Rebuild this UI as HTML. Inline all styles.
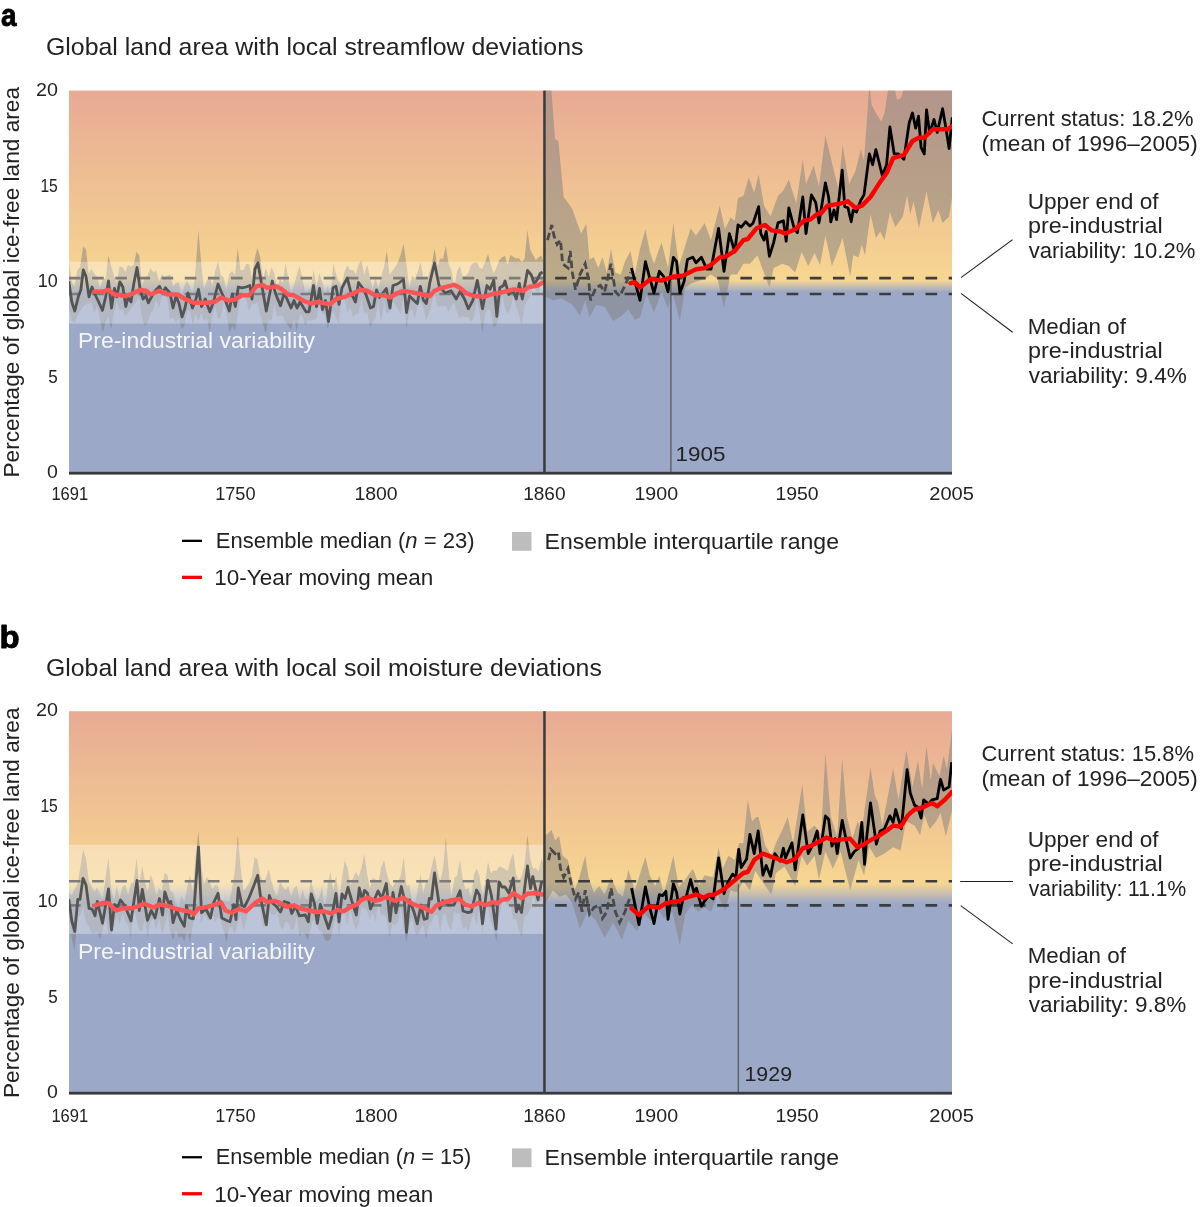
<!DOCTYPE html>
<html><head><meta charset="utf-8"><style>
html,body{margin:0;padding:0;background:#fff;}
svg{display:block;will-change:transform;}
text{font-family:"Liberation Sans", sans-serif;}
</style></head><body>
<svg width="1200" height="1207" viewBox="0 0 1200 1207">
<rect width="1200" height="1207" fill="#fff"/>
<clipPath id="clipA"><rect x="69" y="90.60" width="883" height="381.40"/></clipPath>
<linearGradient id="gA" gradientUnits="userSpaceOnUse" x1="0" y1="90.60" x2="0" y2="472.00"><stop offset="0" stop-color="#E7AA94"/><stop offset="0.4969" stop-color="#F7D691"/><stop offset="0.5281" stop-color="#9CA8C8"/><stop offset="1" stop-color="#9CA8C8"/></linearGradient>
<rect x="69" y="90.60" width="883" height="381.40" fill="url(#gA)"/>
<g clip-path="url(#clipA)">
<polygon points="69.0,262.4 71.8,282.5 74.6,286.6 77.4,270.1 80.2,266.9 83.1,246.5 85.9,249.2 88.7,273.5 91.5,269.0 94.3,273.9 97.1,276.5 99.9,287.7 102.7,279.8 105.6,278.6 108.4,255.5 111.2,266.3 114.0,275.9 116.8,282.3 119.6,266.6 122.4,267.0 125.2,272.0 128.1,264.8 130.9,266.8 133.7,264.7 136.5,251.8 139.3,255.8 142.1,285.6 144.9,277.3 147.7,275.5 150.6,268.0 153.4,272.5 156.2,270.8 159.0,281.5 161.8,274.5 164.6,276.7 167.4,275.4 170.2,274.2 173.0,286.5 175.9,283.4 178.7,282.0 181.5,298.5 184.3,286.1 187.1,280.8 189.9,286.4 192.7,297.2 195.5,269.6 198.4,230.0 201.2,263.5 204.0,288.9 206.8,281.3 209.6,275.9 212.4,286.3 215.2,271.0 218.0,261.5 220.9,275.0 223.7,277.4 226.5,290.8 229.3,273.7 232.1,271.1 234.9,275.5 237.7,248.0 240.5,270.0 243.4,270.2 246.2,263.9 249.0,264.1 251.8,277.3 254.6,258.8 257.4,248.0 260.2,256.7 263.0,279.1 265.8,267.8 268.7,277.3 271.5,267.5 274.3,273.5 277.1,288.6 279.9,277.7 282.7,283.3 285.5,263.0 288.3,278.1 291.2,295.2 294.0,285.3 296.8,275.1 299.6,266.0 302.4,278.7 305.2,293.2 308.0,291.0 310.8,288.2 313.7,269.6 316.5,287.9 319.3,273.2 322.1,281.3 324.9,294.0 327.7,286.0 330.5,296.2 333.3,263.8 336.1,274.4 339.0,281.9 341.8,285.0 344.6,271.5 347.4,265.3 350.2,269.9 353.0,269.9 355.8,274.3 358.6,264.4 361.5,260.6 364.3,274.8 367.1,264.5 369.9,277.0 372.7,289.7 375.5,277.3 378.3,288.8 381.1,277.6 384.0,267.2 386.8,251.0 389.6,274.7 392.4,270.9 395.2,267.1 398.0,261.9 400.8,254.5 403.6,243.5 406.5,265.1 409.3,287.8 412.1,275.6 414.9,278.3 417.7,272.3 420.5,261.7 423.3,277.4 426.1,280.5 428.9,274.4 431.8,264.0 434.6,248.6 437.4,266.4 440.2,258.5 443.0,259.0 445.8,245.8 448.6,264.1 451.4,270.2 454.3,287.4 457.1,271.0 459.9,266.0 462.7,276.6 465.5,275.7 468.3,273.0 471.1,264.9 473.9,263.0 476.8,262.3 479.6,268.0 482.4,268.7 485.2,262.0 488.0,254.0 490.8,264.6 493.6,274.0 496.4,267.8 499.3,260.3 502.1,257.3 504.9,256.0 507.7,265.0 510.5,254.8 513.3,257.0 516.1,258.6 518.9,258.0 521.7,262.0 524.6,258.8 527.4,230.0 530.2,249.5 533.0,255.0 535.8,260.1 538.6,257.2 541.4,255.5 544.5,264.0 544.5,85.0 551.0,85.0 555.0,138.9 558.3,141.0 563.7,197.0 572.3,208.9 581.0,233.6 586.3,224.0 589.5,259.5 593.9,257.3 598.2,268.0 602.5,257.3 606.8,272.4 611.0,248.7 615.4,272.4 620.8,274.6 625.0,261.6 630.5,250.9 634.8,274.6 640.0,248.7 645.4,229.3 649.7,250.9 654.0,263.8 661.5,242.3 668.0,268.0 673.4,222.9 678.8,266.0 683.0,253.0 690.6,228.3 696.0,235.8 704.6,222.9 711.0,240.1 719.7,205.6 725.0,229.3 730.5,217.5 734.8,220.7 738.0,198.1 743.4,196.0 748.8,177.6 754.2,192.7 758.6,174.4 764.0,205.6 770.5,216.4 778.0,196.0 783.4,190.6 788.8,179.8 796.3,203.5 802.8,159.3 806.0,184.1 813.6,165.8 819.0,186.2 825.4,135.6 833.0,166.9 838.3,188.4 842.6,145.3 849.1,184.1 855.4,171.2 860.8,149.6 864.0,160.4 869.4,85.0 871.5,104.4 875.9,113.0 881.2,121.6 884.5,113.0 888.8,85.0 894.0,85.0 897.0,100.0 901.0,98.0 905.0,85.0 952.5,85.0 952.5,194.9 949.1,216.4 942.6,222.9 938.3,210.0 932.9,222.9 926.5,191.6 918.9,228.3 913.6,201.3 910.3,214.3 907.1,194.9 902.8,216.4 895.2,227.2 889.9,212.1 884.5,240.1 880.2,231.5 875.9,238.0 870.5,214.3 865.0,255.2 861.8,244.4 858.6,257.3 853.2,255.2 850.2,276.7 842.6,238.0 836.2,255.2 831.9,266.0 825.4,235.8 820.0,264.9 814.6,253.0 808.2,266.0 801.7,252.0 795.2,272.4 788.8,266.0 782.3,263.8 773.7,268.1 769.4,287.5 763.0,270.3 757.5,255.2 749.9,263.8 743.4,263.8 737.0,274.6 730.5,274.6 724.0,308.0 717.6,278.9 711.0,274.6 704.6,278.9 691.7,283.2 685.2,287.5 679.9,320.9 672.3,291.8 668.0,309.0 661.5,291.8 654.0,312.3 646.5,294.0 640.0,317.6 634.8,319.8 628.3,309.0 621.9,315.5 613.2,320.9 604.6,306.9 596.0,304.7 589.5,317.6 585.2,300.4 579.9,315.5 572.3,304.7 561.5,298.3 553.0,300.4 544.5,296.0 544.5,290.7 541.4,283.9 538.6,292.1 535.8,290.2 533.0,285.6 530.2,296.4 527.4,300.3 524.6,305.3 521.7,324.5 518.9,314.5 516.1,306.8 513.3,295.8 510.5,308.5 507.7,314.2 504.9,307.6 502.1,294.1 499.3,316.2 496.4,324.6 493.6,327.5 490.8,311.0 488.0,309.1 485.2,313.0 482.4,332.7 479.6,312.3 476.8,300.6 473.9,317.9 471.1,321.5 468.3,316.7 465.5,317.5 462.7,315.5 459.9,318.5 457.1,312.4 454.3,303.3 451.4,305.5 448.6,312.1 445.8,305.3 443.0,306.3 440.2,306.2 437.4,306.8 434.6,292.0 431.8,302.9 428.9,313.9 426.1,320.2 423.3,307.5 420.5,301.7 417.7,305.8 414.9,318.0 412.1,309.1 409.3,311.3 406.5,329.6 403.6,294.3 400.8,314.4 398.0,309.1 395.2,304.5 392.4,299.2 389.6,311.3 386.8,314.1 384.0,300.8 381.1,323.1 378.3,300.5 375.5,317.7 372.7,322.7 369.9,327.1 367.1,311.8 364.3,313.7 361.5,298.3 358.6,313.6 355.8,313.9 353.0,317.2 350.2,307.2 347.4,312.9 344.6,298.0 341.8,293.6 339.0,323.6 336.1,318.2 333.3,311.2 330.5,317.9 327.7,329.0 324.9,313.7 322.1,314.7 319.3,304.9 316.5,318.9 313.7,319.8 310.8,320.8 308.0,320.0 305.2,326.0 302.4,315.5 299.6,314.4 296.8,331.4 294.0,318.5 291.2,329.6 288.3,325.9 285.5,322.2 282.7,316.2 279.9,315.3 277.1,317.0 274.3,303.0 271.5,321.0 268.7,318.6 265.8,333.6 263.0,324.5 260.2,315.2 257.4,302.6 254.6,304.0 251.8,304.1 249.0,311.5 246.2,299.6 243.4,295.5 240.5,294.5 237.7,315.5 234.9,330.4 232.1,326.0 229.3,332.5 226.5,311.6 223.7,301.6 220.9,317.3 218.0,318.7 215.2,306.6 212.4,316.1 209.6,331.4 206.8,317.4 204.0,321.3 201.2,312.6 198.4,321.0 195.5,313.8 192.7,324.0 189.9,311.3 187.1,310.7 184.3,326.2 181.5,329.0 178.7,317.4 175.9,322.5 173.0,317.2 170.2,319.4 167.4,298.8 164.6,296.0 161.8,296.6 159.0,308.5 156.2,299.4 153.4,310.1 150.6,313.0 147.7,322.6 144.9,326.0 142.1,317.8 139.3,298.4 136.5,301.5 133.7,305.6 130.9,308.6 128.1,312.7 125.2,317.1 122.4,308.7 119.6,309.9 116.8,301.5 114.0,312.1 111.2,329.2 108.4,317.0 105.6,322.2 102.7,332.7 99.9,318.2 97.1,305.6 94.3,313.6 91.5,302.2 88.7,304.1 85.9,304.6 83.1,306.7 80.2,310.6 77.4,316.2 74.6,322.8 71.8,320.9 69.0,309.3" fill="#808080" fill-opacity="0.5"/>
<line x1="69" y1="278.10" x2="952" y2="278.10" stroke="#3c3c3c" stroke-width="2.7" stroke-dasharray="11.6 11.55"/>
<line x1="69" y1="294.00" x2="952" y2="294.00" stroke="#3c3c3c" stroke-width="2.7" stroke-dasharray="11.6 11.55"/>
<polyline points="68.8,281.0 71.8,302.0 74.8,311.0 78.5,296.0 80.8,290.0 83.3,269.8 86.0,276.5 89.0,296.8 92.0,287.0 94.3,293.0 98.0,300.5 102.5,310.3 105.5,297.5 108.5,281.0 111.5,308.0 114.5,288.5 116.8,296.8 119.8,281.8 122.8,287.0 125.8,306.5 128.0,297.5 131.0,302.0 134.0,282.5 137.0,267.5 140.0,288.5 143.0,299.0 146.0,296.0 148.3,302.8 152.0,296.0 155.8,290.0 159.5,286.3 162.5,293.0 165.5,287.8 170.0,293.0 173.0,308.0 176.0,296.0 179.0,303.5 182.0,317.0 185.0,308.0 188.0,293.0 192.5,308.0 195.5,300.5 198.5,289.3 201.5,306.5 205.3,299.0 209.8,311.8 213.5,302.0 218.0,284.0 221.8,293.0 225.5,300.5 229.3,311.0 232.3,293.8 235.3,306.5 238.3,287.0 242.0,287.8 246.0,287.0 249.8,285.5 252.0,299.0 255.0,269.0 258.0,263.0 261.8,285.5 266.3,311.0 272.3,281.0 275.3,293.0 280.5,305.8 284.3,293.0 291.0,308.0 294.0,300.5 297.0,308.0 300.0,302.0 306.0,311.8 309.0,311.8 313.5,285.5 316.5,306.5 319.5,288.5 322.5,309.5 325.5,300.5 328.5,321.5 333.0,287.8 336.0,286.3 339.0,304.3 342.0,287.8 347.3,278.0 351.0,293.0 355.5,302.0 358.5,282.5 363.0,288.5 366.0,294.5 370.5,308.0 373.5,306.5 376.5,290.0 379.5,297.5 386.3,288.5 390.0,308.0 393.0,285.5 397.5,284.0 403.5,279.5 406.5,312.5 409.5,296.0 414.0,300.5 417.3,303.5 420.3,286.3 423.3,299.8 426.3,303.5 430.0,281.8 434.5,263.0 439.0,285.5 445.0,293.0 451.0,290.8 456.3,299.0 460.0,291.5 464.5,299.0 468.3,308.8 472.8,300.5 477.3,280.3 482.5,308.8 487.0,285.5 490.0,289.3 493.8,280.3 496.8,316.3 499.8,287.8 503.5,285.5 505.0,281.0 508.8,294.5 512.5,289.3 516.3,299.0 519.3,283.3 522.3,299.0 527.5,270.5 531.3,275.0 534.3,284.0 537.3,279.5 540.3,273.5 542.5,272.0" fill="none" stroke="#000" stroke-width="2.8" stroke-linejoin="round"/>
<polyline points="547.5,240.1 551.8,225.0 554.0,235.8 557.2,244.4 560.5,240.1 562.6,263.8 568.0,268.0 570.2,250.9 572.3,272.4 575.5,289.7 579.9,274.6 585.2,263.8 588.5,278.9 590.6,300.4 596.0,287.5 600.3,285.4 604.6,291.8 611.0,263.8 615.4,291.8 619.7,296.1 625.0,285.4 630.5,272.4" fill="none" stroke="#4a4a4a" stroke-width="2.8" stroke-dasharray="7.5 3.5"/>
<polyline points="631.5,268.0 635.9,285.4 640.0,300.4 645.4,261.6 649.7,277.8 654.0,293.0 659.4,271.3 663.7,276.7 668.0,291.8 673.4,257.3 676.6,261.6 679.9,292.9 684.2,281.0 687.4,259.5 692.8,257.3 696.0,262.7 701.4,257.3 706.8,269.2 711.0,269.2 718.6,228.3 724.0,271.3 729.4,233.6 734.8,252.0 738.0,225.0 741.2,227.2 745.6,221.8 749.9,226.1 753.2,222.9 758.6,206.7 760.8,233.6 764.0,240.1 766.2,231.5 769.4,256.3 773.7,242.3 778.0,222.9 783.4,220.7 786.2,241.2 788.8,207.8 794.2,228.3 797.4,232.6 802.8,197.0 806.0,233.6 811.4,194.9 815.7,202.4 819.0,222.9 825.4,183.0 828.6,197.0 830.8,221.8 834.0,210.0 836.6,219.6 842.2,170.1 844.8,206.7 848.0,207.8 851.2,221.8 853.2,210.0 856.5,212.1 860.8,200.3 864.0,194.9 869.4,153.9 872.6,164.7 875.9,149.6 882.3,175.5 886.6,164.7 889.9,127.0 894.2,153.9 898.5,153.9 903.9,159.3 909.2,122.7 912.5,113.0 915.7,128.1 918.5,116.2 921.1,147.5 924.3,153.9 926.5,109.8 929.7,133.5 934.0,119.5 937.2,132.4 942.6,108.7 945.9,128.1 949.1,148.6 952.3,117.3" fill="none" stroke="#000" stroke-width="2.8" stroke-linejoin="round"/>
<polyline points="94.3,291.5 101.0,291.8 108.5,290.0 114.5,294.5 125.0,296.0 132.5,293.8 140.0,290.0 146.0,290.8 150.5,294.5 159.5,290.8 167.0,294.2 177.5,294.5 185.0,299.0 194.0,302.8 207.5,302.8 215.0,301.7 221.0,297.5 228.5,300.5 234.5,299.8 242.0,295.3 249.0,295.3 256.5,286.3 262.5,284.8 267.0,287.8 276.0,286.3 282.0,289.3 288.0,294.5 294.0,295.3 303.0,300.5 310.5,303.5 318.0,302.0 330.0,304.3 336.0,299.0 345.0,296.8 352.5,293.8 360.0,290.0 367.5,290.8 375.0,295.3 384.0,295.3 390.0,297.5 397.5,293.0 403.5,290.8 412.5,292.3 422.5,294.5 430.0,296.0 434.5,290.8 442.0,287.8 454.0,284.8 460.0,287.8 466.0,293.0 473.5,296.0 484.0,296.8 493.0,293.8 499.0,293.0 508.0,290.8 514.0,289.3 523.0,290.8 529.0,287.0 538.0,285.5 542.5,282.5" fill="none" stroke="#f00" stroke-width="4.4" stroke-linejoin="round" stroke-linecap="round"/>
<polyline points="630.5,283.2 634.8,282.1 640.0,287.5 650.8,278.9 661.5,280.6 672.3,276.7 683.0,275.6 696.0,269.2 704.6,268.1 711.0,264.9 719.7,257.3 726.2,256.3 734.8,250.9 743.4,240.1 747.7,239.0 756.5,228.3 765.0,225.0 771.5,230.4 780.2,231.5 785.5,233.6 795.2,229.3 803.9,220.7 810.3,219.6 816.8,214.3 821.1,213.2 827.6,205.6 834.0,204.6 840.5,203.5 848.0,201.3 855.6,207.8 862.0,205.6 870.5,197.0 880.2,181.9 886.6,173.3 893.1,158.2 903.9,155.0 912.5,141.0 918.9,137.8 924.3,137.8 932.9,129.2 940.5,129.2 948.0,129.2 952.3,125.9" fill="none" stroke="#f00" stroke-width="4.4" stroke-linejoin="round" stroke-linecap="round"/>
<rect x="69" y="261.80" width="475" height="61.80" fill="#fff" fill-opacity="0.33"/>
</g>
<rect x="543.2" y="90.60" width="2.5" height="381.40" fill="#3a3a3a"/>
<rect x="670.30" y="281.10" width="1.2" height="190.90" fill="#555"/>
<rect x="69" y="471.80" width="883" height="2.8" fill="#3a3a3a"/>
<clipPath id="clipB"><rect x="69" y="711.20" width="883" height="380.80"/></clipPath>
<linearGradient id="gB" gradientUnits="userSpaceOnUse" x1="0" y1="711.20" x2="0" y2="1092.00"><stop offset="0" stop-color="#E7AA94"/><stop offset="0.4518" stop-color="#F7D691"/><stop offset="0.5047" stop-color="#9CA8C8"/><stop offset="1" stop-color="#9CA8C8"/></linearGradient>
<rect x="69" y="711.20" width="883" height="380.80" fill="url(#gB)"/>
<g clip-path="url(#clipB)">
<polygon points="69.0,892.0 71.8,895.4 74.6,889.0 77.4,884.0 80.2,868.4 83.1,849.8 85.9,858.0 88.7,880.3 91.5,886.3 94.3,891.4 97.1,887.7 99.9,893.0 102.7,899.2 105.6,877.1 108.4,858.0 111.2,889.1 114.0,900.9 116.8,886.4 119.6,898.6 122.4,887.2 125.2,885.1 128.1,895.3 130.9,883.8 133.7,881.9 136.5,858.0 139.3,886.5 142.1,865.8 144.9,881.6 147.7,892.6 150.6,875.0 153.4,881.5 156.2,895.6 159.0,888.4 161.8,891.0 164.6,872.6 167.4,874.9 170.2,890.6 173.0,892.4 175.9,902.4 178.7,908.8 181.5,895.5 184.3,903.6 187.1,888.0 189.9,874.5 192.7,891.4 195.5,857.5 198.4,831.5 201.2,865.3 204.0,884.1 206.8,877.3 209.6,881.1 212.4,889.3 215.2,885.0 218.0,886.1 220.9,903.2 223.7,900.8 226.5,901.6 229.3,901.4 232.1,888.0 234.9,870.1 237.7,835.0 240.5,866.3 243.4,890.8 246.2,888.1 249.0,882.9 251.8,876.6 254.6,857.3 257.4,859.2 260.2,875.5 263.0,882.9 265.8,877.9 268.7,869.3 271.5,881.2 274.3,890.7 277.1,896.2 279.9,881.7 282.7,886.8 285.5,889.7 288.3,886.5 291.2,896.4 294.0,888.3 296.8,885.6 299.6,901.0 302.4,889.5 305.2,898.8 308.0,899.3 310.8,880.2 313.7,891.0 316.5,901.6 319.3,897.5 322.1,886.5 324.9,913.3 327.7,884.5 330.5,872.0 333.3,890.7 336.1,875.0 339.0,900.9 341.8,879.1 344.6,861.0 347.4,866.9 350.2,885.0 353.0,878.2 355.8,871.9 358.6,877.1 361.5,867.7 364.3,854.3 367.1,873.7 369.9,889.1 372.7,877.5 375.5,879.5 378.3,882.9 381.1,867.6 384.0,860.3 386.8,874.1 389.6,882.0 392.4,887.2 395.2,882.7 398.0,882.2 400.8,875.2 403.6,857.3 406.5,885.7 409.3,884.9 412.1,901.0 414.9,905.5 417.7,889.0 420.5,874.0 423.3,893.6 426.1,880.6 428.9,878.8 431.8,866.1 434.6,855.5 437.4,870.4 440.2,881.0 443.0,868.7 445.8,837.5 448.6,869.8 451.4,897.7 454.3,877.4 457.1,876.1 459.9,860.0 462.7,878.9 465.5,889.6 468.3,888.1 471.1,898.2 473.9,874.9 476.8,868.3 479.6,876.3 482.4,896.3 485.2,882.8 488.0,861.5 490.8,873.4 493.6,870.5 496.4,870.9 499.3,866.2 502.1,867.4 504.9,868.9 507.7,871.0 510.5,860.0 513.3,853.0 516.1,874.2 518.9,880.5 521.7,875.5 524.6,865.0 527.4,834.5 530.2,858.3 533.0,868.6 535.8,868.0 538.6,871.8 541.4,858.4 544.5,866.5 544.5,834.3 545.4,834.3 547.0,834.5 551.5,830.0 555.3,840.5 559.0,836.0 562.6,855.8 568.0,860.1 570.2,870.9 574.5,890.3 578.8,879.5 585.2,855.8 588.5,877.3 593.9,892.4 599.2,886.0 604.6,894.6 611.0,877.3 617.6,892.4 622.9,896.7 628.3,869.8 634.8,890.3 645.4,856.9 649.7,875.2 655.1,886.0 659.4,875.2 663.7,894.6 673.4,855.8 678.8,887.0 685.2,879.5 692.8,868.7 699.2,884.9 704.6,875.2 713.2,877.3 718.6,847.2 722.9,868.7 728.3,855.8 734.8,860.1 739.1,842.9 743.4,842.9 747.7,799.8 752.0,821.3 756.3,817.0 758.6,817.0 765.1,845.0 771.5,855.8 775.9,842.9 782.3,830.0 787.7,817.0 793.1,842.9 802.3,784.7 807.1,832.1 814.6,825.6 821.1,834.3 825.4,753.5 830.8,817.0 837.2,836.4 842.2,758.9 847.0,817.0 852.3,838.6 857.7,821.3 861.8,830.0 870.5,767.5 874.8,795.5 878.0,801.9 882.3,825.6 893.1,768.6 898.5,799.8 906.4,750.2 912.5,786.9 917.9,761.0 922.2,789.0 926.5,745.9 930.8,780.4 933.0,763.2 939.4,776.1 943.7,755.6 946.9,769.6 952.5,725.5 952.5,808.4 945.9,836.4 940.5,812.7 936.2,821.3 929.7,828.9 924.3,814.9 920.0,835.3 914.6,825.6 906.0,821.3 900.6,850.4 893.1,847.2 884.5,853.6 875.9,858.0 869.4,847.2 864.0,875.2 858.6,860.1 850.2,890.3 840.5,851.5 832.9,868.7 825.4,851.5 818.9,879.5 814.6,855.8 807.1,865.5 801.7,855.8 795.2,886.0 784.5,866.6 775.9,873.0 771.5,894.6 760.8,879.5 755.4,870.9 749.9,890.3 743.4,881.6 736.9,892.4 730.5,890.3 725.1,910.7 717.6,894.6 711.1,911.8 704.6,907.5 698.2,911.8 691.7,905.3 685.2,914.0 679.9,945.2 672.3,911.8 663.7,918.3 657.2,907.5 650.8,920.4 644.3,914.0 637.0,931.2 628.3,920.4 621.9,939.8 613.2,922.6 604.6,937.7 596.0,920.4 587.4,911.8 579.9,929.0 572.3,903.2 565.9,894.6 559.4,896.7 552.9,890.3 545.4,903.2 544.5,903.2 544.5,889.1 541.4,900.4 538.6,902.1 535.8,903.7 533.0,896.4 530.2,908.9 527.4,914.4 524.6,916.8 521.7,936.5 518.9,930.2 516.1,918.6 513.3,920.1 510.5,904.1 507.7,905.8 504.9,900.2 502.1,902.0 499.3,915.0 496.4,941.5 493.6,929.2 490.8,921.6 488.0,907.3 485.2,910.3 482.4,935.0 479.6,905.3 476.8,926.1 473.9,911.8 471.1,921.4 468.3,932.2 465.5,926.8 462.7,928.9 459.9,912.4 457.1,914.3 454.3,911.8 451.4,930.6 448.6,926.0 445.8,914.4 443.0,914.4 440.2,932.3 437.4,915.5 434.6,914.7 431.8,921.7 428.9,925.2 426.1,939.0 423.3,924.7 420.5,929.0 417.7,935.1 414.9,932.3 412.1,916.6 409.3,925.1 406.5,941.9 403.6,927.3 400.8,906.7 398.0,921.2 395.2,925.8 392.4,923.5 389.6,938.0 386.8,918.8 384.0,914.2 381.1,915.7 378.3,902.0 375.5,922.3 372.7,912.3 369.9,920.1 367.1,910.6 364.3,908.0 361.5,907.1 358.6,924.2 355.8,929.5 353.0,921.7 350.2,907.4 347.4,925.7 344.6,911.9 341.8,913.9 339.0,937.5 336.1,914.3 333.3,927.2 330.5,938.7 327.7,941.5 324.9,939.8 322.1,932.8 319.3,930.2 316.5,925.3 313.7,918.6 310.8,927.8 308.0,939.9 305.2,934.5 302.4,932.3 299.6,936.5 296.8,915.8 294.0,928.8 291.2,930.0 288.3,922.7 285.5,921.5 282.7,929.9 279.9,925.1 277.1,911.3 274.3,914.9 271.5,914.2 268.7,909.8 265.8,926.4 263.0,927.3 260.2,905.1 257.4,903.3 254.6,903.7 251.8,905.9 249.0,908.7 246.2,920.2 243.4,930.4 240.5,915.4 237.7,923.2 234.9,934.5 232.1,927.6 229.3,927.3 226.5,942.4 223.7,930.7 220.9,920.5 218.0,916.2 215.2,922.1 212.4,912.6 209.6,921.0 206.8,917.6 204.0,913.9 201.2,924.3 198.4,904.7 195.5,914.1 192.7,926.1 189.9,942.5 187.1,929.8 184.3,941.4 181.5,936.0 178.7,938.0 175.9,929.6 173.0,940.5 170.2,930.4 167.4,912.7 164.6,926.6 161.8,933.2 159.0,917.3 156.2,929.9 153.4,918.4 150.6,921.5 147.7,937.4 144.9,917.4 142.1,931.5 139.3,930.3 136.5,919.2 133.7,906.6 130.9,938.6 128.1,925.7 125.2,920.8 122.4,913.0 119.6,924.5 116.8,915.0 114.0,925.1 111.2,933.4 108.4,934.2 105.6,913.9 102.7,930.4 99.9,939.0 97.1,931.6 94.3,933.3 91.5,933.2 88.7,925.8 85.9,923.3 83.1,906.8 80.2,915.3 77.4,917.3 74.6,951.6 71.8,938.6 69.0,917.7" fill="#808080" fill-opacity="0.5"/>
<line x1="69" y1="881.26" x2="952" y2="881.26" stroke="#3c3c3c" stroke-width="2.7" stroke-dasharray="11.6 11.55"/>
<line x1="69" y1="905.41" x2="952" y2="905.41" stroke="#3c3c3c" stroke-width="2.7" stroke-dasharray="11.6 11.55"/>
<polyline points="68.8,899.3 71.8,921.0 74.8,931.5 77.8,899.3 80.0,899.3 83.0,878.3 86.0,885.0 89.0,908.3 92.0,909.0 95.0,915.8 97.3,901.5 102.5,923.3 108.5,888.8 111.5,930.0 114.5,904.5 117.5,907.5 120.5,900.0 125.0,906.0 131.0,921.0 137.0,880.5 139.3,910.5 142.3,889.5 147.5,920.3 151.3,910.5 155.0,918.0 159.5,898.5 162.5,915.0 164.8,891.8 168.5,903.0 170.8,901.5 173.0,922.5 176.8,910.5 180.5,919.5 184.3,926.3 186.5,906.0 189.5,918.0 193.3,918.8 198.5,846.8 201.5,912.8 206.0,909.0 210.5,918.0 213.5,903.0 218.0,893.3 221.8,918.0 226.3,920.3 230.0,921.8 233.8,904.5 236.0,919.5 238.3,888.0 242.0,905.3 244.5,906.8 249.0,897.8 253.5,886.5 257.7,875.3 261.0,900.0 266.3,924.8 269.3,895.5 272.3,903.0 276.0,906.0 280.5,912.0 284.3,901.5 288.8,903.0 291.8,913.5 295.5,906.0 299.3,915.8 305.3,915.0 308.3,921.8 311.3,894.0 314.3,903.0 317.3,923.3 320.3,904.5 324.0,915.0 328.5,928.5 331.5,918.0 336.0,893.3 339.0,921.8 342.0,894.0 345.0,898.5 348.0,887.3 351.8,900.8 356.3,915.0 359.3,888.0 362.3,900.0 364.5,890.3 367.5,893.3 370.5,909.0 374.3,900.0 378.0,891.0 381.8,898.5 386.3,883.5 390.0,921.0 393.0,892.5 396.0,912.8 401.3,886.5 404.3,899.3 406.5,932.3 409.5,900.0 414.0,912.0 417.3,923.8 421.0,905.0 424.0,919.3 427.0,918.5 429.3,898.3 431.5,899.0 434.5,872.8 439.8,908.8 442.8,900.5 448.0,905.0 454.0,905.0 460.0,890.8 463.0,911.0 467.5,912.5 471.3,911.8 476.5,890.0 479.5,895.3 482.5,923.8 487.8,880.3 491.5,896.0 496.0,929.0 499.0,881.8 502.0,887.0 505.0,887.0 508.8,893.0 513.3,878.0 516.3,911.8 518.5,905.0 521.5,912.5 527.5,866.0 530.5,888.5 532.8,876.5 538.0,899.8 541.8,881.0" fill="none" stroke="#000" stroke-width="2.8" stroke-linejoin="round"/>
<polyline points="548.6,860.1 550.8,849.3 555.0,853.6 558.3,851.5 560.5,868.7 563.7,877.3 568.0,868.7 571.2,883.8 575.5,898.9 578.8,892.4 582.0,911.8 585.2,890.3 589.5,914.0 593.9,907.5 599.2,905.3 602.5,918.3 606.8,911.8 611.0,888.1 615.4,911.8 619.7,922.6 625.0,911.8 629.4,898.9" fill="none" stroke="#4a4a4a" stroke-width="2.8" stroke-dasharray="7.5 3.5"/>
<polyline points="631.6,888.1 639.0,924.7 645.4,887.0 649.7,907.5 654.0,923.6 659.4,894.6 662.6,895.7 665.9,891.3 668.0,919.3 673.4,883.8 676.6,892.4 679.9,914.0 683.1,897.8 686.3,896.7 690.6,879.5 693.9,892.4 696.4,888.1 701.4,906.4 704.6,901.0 708.9,895.7 713.2,898.9 718.6,858.0 724.0,893.5 728.3,881.6 732.6,874.1 735.9,877.3 738.7,849.3 741.2,867.6 746.6,859.0 749.9,834.3 754.2,853.6 758.2,831.0 762.9,875.2 766.2,865.5 770.5,876.3 774.8,853.6 780.2,861.2 783.4,848.3 785.5,858.0 792.0,842.9 795.2,869.8 802.8,814.9 808.2,853.6 812.5,845.0 817.2,831.0 820.0,853.6 825.4,816.0 828.6,819.2 831.9,846.1 835.1,838.6 837.2,853.6 842.2,820.3 845.9,838.6 850.2,858.0 854.3,851.5 858.6,848.3 861.8,822.4 864.6,864.4 866.8,836.4 870.5,803.0 873.7,825.6 876.3,844.0 880.2,831.0 884.5,828.9 889.9,815.9 893.1,822.4 895.7,809.5 901.3,828.9 907.1,769.6 910.3,793.3 914.6,805.2 917.9,807.3 921.1,818.1 923.7,799.8 928.6,804.1 931.9,799.8 937.2,798.7 940.5,779.3 943.7,790.1 949.1,786.9 951.7,762.1" fill="none" stroke="#000" stroke-width="2.8" stroke-linejoin="round"/>
<polyline points="95.0,905.3 102.5,903.0 108.5,903.0 116.0,910.5 123.5,908.3 132.5,908.3 144.5,903.8 153.5,907.5 159.5,904.5 168.5,906.0 174.5,908.3 183.5,910.5 189.5,911.3 194.0,914.3 198.5,908.3 207.5,906.8 215.0,904.5 221.0,902.3 225.5,910.5 231.5,912.8 239.0,909.0 246.0,911.3 255.0,903.0 262.5,898.5 267.0,902.3 274.5,900.8 280.5,903.0 286.5,906.8 294.0,905.3 300.0,908.3 309.0,910.5 316.5,912.0 324.0,911.3 331.5,913.5 337.5,909.8 343.5,911.3 351.0,906.8 357.0,904.5 361.5,900.0 367.5,897.8 375.0,900.8 381.0,899.3 386.3,897.0 394.5,900.8 403.5,897.8 408.0,901.5 415.0,905.0 422.5,907.3 431.5,911.8 436.0,905.8 445.0,902.0 451.0,900.5 459.3,899.0 464.5,904.3 471.3,906.5 478.8,902.8 485.5,905.0 493.0,902.0 497.5,903.5 502.0,899.8 508.0,899.0 513.3,893.0 521.5,898.3 527.5,893.8 535.0,893.0 542.5,894.5" fill="none" stroke="#f00" stroke-width="4.4" stroke-linejoin="round" stroke-linecap="round"/>
<polyline points="631.6,908.6 639.0,915.0 648.6,906.4 659.4,907.5 665.9,903.2 678.8,901.0 685.2,897.8 692.8,895.7 697.1,894.6 703.6,897.8 708.9,895.0 714.3,894.6 724.0,889.2 730.5,883.8 737.0,878.4 743.4,873.0 747.7,872.0 754.2,860.1 762.9,853.6 771.5,856.9 778.0,859.0 786.6,862.3 795.2,859.0 802.8,848.3 810.3,846.1 818.9,841.8 826.5,837.5 834.0,840.7 840.5,839.6 850.0,838.6 857.5,847.2 862.9,845.0 871.5,839.6 878.0,836.4 887.7,830.0 893.1,825.6 900.6,826.7 908.2,814.9 914.6,809.5 923.2,807.3 931.9,803.0 937.2,806.2 944.8,799.8 951.7,792.2" fill="none" stroke="#f00" stroke-width="4.4" stroke-linejoin="round" stroke-linecap="round"/>
<rect x="69" y="844.80" width="475" height="89.10" fill="#fff" fill-opacity="0.33"/>
</g>
<rect x="543.2" y="711.20" width="2.5" height="380.80" fill="#3a3a3a"/>
<rect x="737.70" y="884.26" width="1.2" height="207.74" fill="#555"/>
<rect x="69" y="1091.80" width="883" height="2.8" fill="#3a3a3a"/>
<line x1="961" y1="277.6" x2="1012.6" y2="239.6" stroke="#222" stroke-width="1.1"/>
<line x1="961" y1="293.4" x2="1012.6" y2="332.3" stroke="#222" stroke-width="1.1"/>
<line x1="960.2" y1="881.5" x2="1013" y2="881.5" stroke="#222" stroke-width="1.1"/>
<line x1="960.7" y1="905.6" x2="1012.7" y2="943.9" stroke="#222" stroke-width="1.1"/>
<rect x="182" y="539.70" width="20" height="2.3" fill="#000"/>
<rect x="182" y="575.70" width="20" height="3.3" fill="#f00"/>
<rect x="512" y="532.00" width="19.5" height="18.8" fill="#bdbdbd"/>
<rect x="182" y="1156.10" width="20" height="2.3" fill="#000"/>
<rect x="182" y="1192.10" width="20" height="3.3" fill="#f00"/>
<rect x="512" y="1148.40" width="19.5" height="18.8" fill="#bdbdbd"/>
<text x="0.90" y="26.00" font-size="32" font-weight="bold" fill="#000" textLength="15.52" lengthAdjust="spacingAndGlyphs" stroke="#000" stroke-width="0.9" stroke-linejoin="round">a</text>
<text x="-0.56" y="647.60" font-size="32" font-weight="bold" fill="#000" textLength="20.12" lengthAdjust="spacingAndGlyphs" stroke="#000" stroke-width="0.9" stroke-linejoin="round">b</text>
<text x="45.97" y="54.60" font-size="24.2" font-weight="normal" fill="#222" textLength="537.42" lengthAdjust="spacingAndGlyphs">Global land area with local streamflow deviations</text>
<text x="45.97" y="676.20" font-size="24.2" font-weight="normal" fill="#222" textLength="555.82" lengthAdjust="spacingAndGlyphs">Global land area with local soil moisture deviations</text>
<text x="36.00" y="96.00" font-size="19.0" font-weight="normal" fill="#222" textLength="21.89" lengthAdjust="spacingAndGlyphs">20</text>
<text x="40.38" y="191.60" font-size="19.0" font-weight="normal" fill="#222" textLength="17.39" lengthAdjust="spacingAndGlyphs">15</text>
<text x="37.85" y="287.20" font-size="19.0" font-weight="normal" fill="#222" textLength="19.98" lengthAdjust="spacingAndGlyphs">10</text>
<text x="48.30" y="383.00" font-size="19.0" font-weight="normal" fill="#222" textLength="9.51" lengthAdjust="spacingAndGlyphs">5</text>
<text x="47.00" y="478.40" font-size="19.0" font-weight="normal" fill="#222" textLength="10.88" lengthAdjust="spacingAndGlyphs">0</text>
<text x="36.00" y="716.00" font-size="19.0" font-weight="normal" fill="#222" textLength="21.89" lengthAdjust="spacingAndGlyphs">20</text>
<text x="40.38" y="811.60" font-size="19.0" font-weight="normal" fill="#222" textLength="17.39" lengthAdjust="spacingAndGlyphs">15</text>
<text x="37.85" y="907.20" font-size="19.0" font-weight="normal" fill="#222" textLength="19.98" lengthAdjust="spacingAndGlyphs">10</text>
<text x="48.30" y="1003.00" font-size="19.0" font-weight="normal" fill="#222" textLength="9.51" lengthAdjust="spacingAndGlyphs">5</text>
<text x="47.00" y="1098.40" font-size="19.0" font-weight="normal" fill="#222" textLength="10.88" lengthAdjust="spacingAndGlyphs">0</text>
<text x="51.43" y="499.60" font-size="19.0" font-weight="normal" fill="#222" textLength="36.76" lengthAdjust="spacingAndGlyphs">1691</text>
<text x="215.14" y="499.60" font-size="19.0" font-weight="normal" fill="#222" textLength="40.40" lengthAdjust="spacingAndGlyphs">1750</text>
<text x="354.48" y="499.60" font-size="19.0" font-weight="normal" fill="#222" textLength="43.20" lengthAdjust="spacingAndGlyphs">1800</text>
<text x="523.20" y="499.60" font-size="19.0" font-weight="normal" fill="#222" textLength="42.37" lengthAdjust="spacingAndGlyphs">1860</text>
<text x="634.47" y="499.60" font-size="19.0" font-weight="normal" fill="#222" textLength="43.62" lengthAdjust="spacingAndGlyphs">1900</text>
<text x="775.48" y="499.60" font-size="19.0" font-weight="normal" fill="#222" textLength="43.20" lengthAdjust="spacingAndGlyphs">1950</text>
<text x="929.30" y="499.60" font-size="19.0" font-weight="normal" fill="#222" textLength="44.60" lengthAdjust="spacingAndGlyphs">2005</text>
<text x="51.43" y="1121.60" font-size="19.0" font-weight="normal" fill="#222" textLength="36.76" lengthAdjust="spacingAndGlyphs">1691</text>
<text x="215.14" y="1121.60" font-size="19.0" font-weight="normal" fill="#222" textLength="40.40" lengthAdjust="spacingAndGlyphs">1750</text>
<text x="354.48" y="1121.60" font-size="19.0" font-weight="normal" fill="#222" textLength="43.20" lengthAdjust="spacingAndGlyphs">1800</text>
<text x="523.20" y="1121.60" font-size="19.0" font-weight="normal" fill="#222" textLength="42.37" lengthAdjust="spacingAndGlyphs">1860</text>
<text x="634.47" y="1121.60" font-size="19.0" font-weight="normal" fill="#222" textLength="43.62" lengthAdjust="spacingAndGlyphs">1900</text>
<text x="775.48" y="1121.60" font-size="19.0" font-weight="normal" fill="#222" textLength="43.20" lengthAdjust="spacingAndGlyphs">1950</text>
<text x="929.30" y="1121.60" font-size="19.0" font-weight="normal" fill="#222" textLength="44.60" lengthAdjust="spacingAndGlyphs">2005</text>
<text transform="translate(18.80,476.60) rotate(-90)" x="-0.99" y="0" font-size="22.8" font-weight="normal" fill="#222" textLength="390.67" lengthAdjust="spacingAndGlyphs">Percentage of global ice-free land area</text>
<text transform="translate(18.80,1097.10) rotate(-90)" x="-0.99" y="0" font-size="22.8" font-weight="normal" fill="#222" textLength="390.67" lengthAdjust="spacingAndGlyphs">Percentage of global ice-free land area</text>
<text x="78.07" y="348.20" font-size="22.2" font-weight="normal" fill="#f4f5f8" textLength="237.00" lengthAdjust="spacingAndGlyphs">Pre-industrial variability</text>
<text x="78.07" y="958.60" font-size="22.2" font-weight="normal" fill="#f4f5f8" textLength="237.00" lengthAdjust="spacingAndGlyphs">Pre-industrial variability</text>
<text x="675.42" y="460.70" font-size="20.8" font-weight="normal" fill="#222" textLength="49.99" lengthAdjust="spacingAndGlyphs">1905</text>
<text x="744.47" y="1081.00" font-size="20.8" font-weight="normal" fill="#222" textLength="47.61" lengthAdjust="spacingAndGlyphs">1929</text>
<text x="215.73" y="548.00" font-size="22.6" font-weight="normal" fill="#222" textLength="258.78" lengthAdjust="spacingAndGlyphs">Ensemble median (<tspan font-style="italic">n</tspan> = 23)</text>
<text x="544.58" y="548.50" font-size="22.6" font-weight="normal" fill="#222" textLength="294.40" lengthAdjust="spacingAndGlyphs">Ensemble interquartile range</text>
<text x="214.31" y="585.30" font-size="22.6" font-weight="normal" fill="#222" textLength="218.96" lengthAdjust="spacingAndGlyphs">10-Year moving mean</text>
<text x="215.74" y="1164.40" font-size="22.6" font-weight="normal" fill="#222" textLength="255.57" lengthAdjust="spacingAndGlyphs">Ensemble median (<tspan font-style="italic">n</tspan> = 15)</text>
<text x="544.58" y="1164.90" font-size="22.6" font-weight="normal" fill="#222" textLength="294.40" lengthAdjust="spacingAndGlyphs">Ensemble interquartile range</text>
<text x="214.31" y="1201.70" font-size="22.6" font-weight="normal" fill="#222" textLength="218.96" lengthAdjust="spacingAndGlyphs">10-Year moving mean</text>
<text x="981.50" y="126.30" font-size="22.0" font-weight="normal" fill="#222" textLength="211.96" lengthAdjust="spacingAndGlyphs">Current status: 18.2%</text>
<text x="981.47" y="151.00" font-size="22.0" font-weight="normal" fill="#222" textLength="216.19" lengthAdjust="spacingAndGlyphs">(mean of 1996–2005)</text>
<text x="1027.67" y="208.70" font-size="22.0" font-weight="normal" fill="#222" textLength="130.92" lengthAdjust="spacingAndGlyphs">Upper end of</text>
<text x="1027.94" y="233.00" font-size="22.0" font-weight="normal" fill="#222" textLength="134.70" lengthAdjust="spacingAndGlyphs">pre-industrial</text>
<text x="1028.70" y="257.70" font-size="22.0" font-weight="normal" fill="#222" textLength="166.56" lengthAdjust="spacingAndGlyphs">variability: 10.2%</text>
<text x="1027.68" y="333.70" font-size="22.0" font-weight="normal" fill="#222" textLength="98.21" lengthAdjust="spacingAndGlyphs">Median of</text>
<text x="1027.94" y="358.00" font-size="22.0" font-weight="normal" fill="#222" textLength="134.70" lengthAdjust="spacingAndGlyphs">pre-industrial</text>
<text x="1028.70" y="382.70" font-size="22.0" font-weight="normal" fill="#222" textLength="158.08" lengthAdjust="spacingAndGlyphs">variability: 9.4%</text>
<text x="981.50" y="761.30" font-size="22.0" font-weight="normal" fill="#222" textLength="212.46" lengthAdjust="spacingAndGlyphs">Current status: 15.8%</text>
<text x="981.47" y="786.00" font-size="22.0" font-weight="normal" fill="#222" textLength="216.19" lengthAdjust="spacingAndGlyphs">(mean of 1996–2005)</text>
<text x="1027.67" y="847.20" font-size="22.0" font-weight="normal" fill="#222" textLength="130.92" lengthAdjust="spacingAndGlyphs">Upper end of</text>
<text x="1027.94" y="871.20" font-size="22.0" font-weight="normal" fill="#222" textLength="134.70" lengthAdjust="spacingAndGlyphs">pre-industrial</text>
<text x="1028.70" y="895.50" font-size="22.0" font-weight="normal" fill="#222" textLength="157.54" lengthAdjust="spacingAndGlyphs">variability: 11.1%</text>
<text x="1027.68" y="963.20" font-size="22.0" font-weight="normal" fill="#222" textLength="98.21" lengthAdjust="spacingAndGlyphs">Median of</text>
<text x="1027.94" y="987.70" font-size="22.0" font-weight="normal" fill="#222" textLength="134.70" lengthAdjust="spacingAndGlyphs">pre-industrial</text>
<text x="1028.70" y="1012.00" font-size="22.0" font-weight="normal" fill="#222" textLength="157.57" lengthAdjust="spacingAndGlyphs">variability: 9.8%</text>
</svg>
</body></html>
